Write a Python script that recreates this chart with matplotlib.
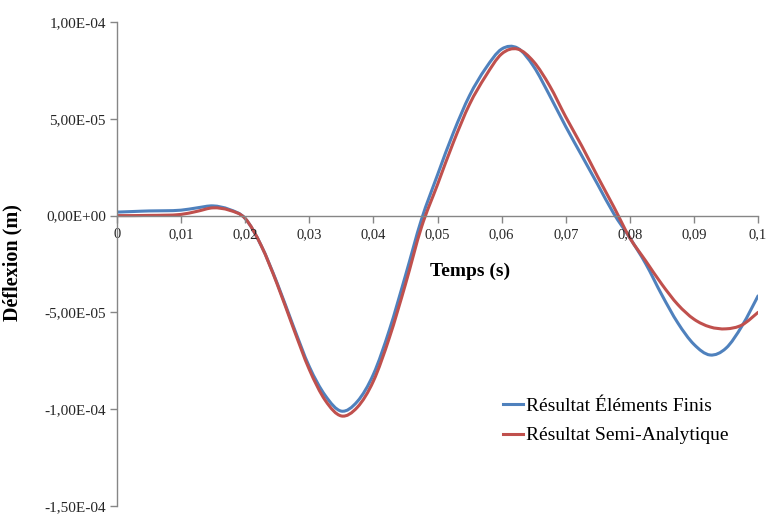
import numpy as np
import matplotlib
matplotlib.use("Agg")
import matplotlib.pyplot as plt
from matplotlib.path import Path
from matplotlib.patches import PathPatch
from matplotlib.lines import Line2D
from matplotlib.ticker import FuncFormatter, MultipleLocator

# ---------------------------------------------------------------------------
# Data (deflection in micrometres)
# ---------------------------------------------------------------------------
TIME_S = np.arange(41) * 0.0025

FE_UM = [1.8, 2.1, 2.4, 2.5, 2.8, 4.0, 5.0, 3.2, -1.5, -15.5,
         -35.0, -57.0, -78.0, -93.0, -101.0, -96.0, -82.0, -59.0, -31.0, -2.0,
         21.0, 43.0, 62.0, 76.0, 86.0, 86.5, 77.0, 62.0, 46.0, 31.0,
         16.0, 1.0, -11.5, -25.0, -41.0, -55.5, -66.5, -72.0, -68.5, -57.0,
         -41.5]

SA_UM = [0.0, 0.0, 0.1, 0.2, 0.6, 2.2, 4.0, 2.8, -1.5, -15.5,
         -35.5, -58.0, -79.5, -95.5, -103.5, -99.0, -85.5, -63.0, -35.5, -6.0,
         16.0, 38.0, 57.5, 72.0, 83.5, 86.0, 79.5, 67.0, 51.0, 36.0,
         20.0, 4.5, -11.5, -23.5, -35.5, -46.0, -53.5, -57.5, -58.5, -56.5,
         -50.0]

LABEL_FE = "Résultat Éléments Finis"
LABEL_SA = "Résultat Semi-Analytique"

BLUE = "#4F81BD"
RED = "#C0504D"
AXIS_C = "#868686"
TEXT_C = "#262626"
LW = 2.2

plt.rcParams["font.family"] = ["Liberation Serif", "DejaVu Serif"]


def smooth_path(x, y):
    """Excel-like smoothed line: Catmull-Rom segments as cubic Beziers."""
    x = np.asarray(x, float)
    y = np.asarray(y, float)
    px = np.concatenate([[x[0]], x, [x[-1]]])
    py = np.concatenate([[y[0]], y, [y[-1]]])
    verts = [(x[0], y[0])]
    codes = [Path.MOVETO]
    for i in range(1, len(px) - 2):
        c1 = (px[i] + (px[i + 1] - px[i - 1]) / 6, py[i] + (py[i + 1] - py[i - 1]) / 6)
        c2 = (px[i + 1] - (px[i + 2] - px[i]) / 6, py[i + 1] - (py[i + 2] - py[i]) / 6)
        verts += [c1, c2, (px[i + 1], py[i + 1])]
        codes += [Path.CURVE4] * 3
    return Path(verts, codes)


fig = plt.figure(figsize=(7.66, 5.16), dpi=100)
ax = fig.add_axes([0.1527, 0.0194, 0.8369, 0.938])

fe = np.array(FE_UM) * 1e-6
sa = np.array(SA_UM) * 1e-6
for ys, col in ((fe, BLUE), (sa, RED)):
    ax.add_patch(PathPatch(smooth_path(TIME_S, ys), facecolor="none",
                           edgecolor=col, lw=LW, capstyle="round",
                           joinstyle="round"))

ax.set_xlim(0, 0.1)
ax.set_ylim(-1.5e-4, 1.0e-4)
ax.xaxis.set_major_locator(MultipleLocator(0.01))
ax.yaxis.set_major_locator(MultipleLocator(5e-5))


def _xfmt(v, pos):
    s = f"{v:.2f}".rstrip("0").rstrip(".")
    return s.replace(".", ",")


def _yfmt(v, pos):
    if abs(v) < 1e-12:
        v = 0.0
    return f"{v:.2E}".replace(".", ",")


ax.xaxis.set_major_formatter(FuncFormatter(_xfmt))
ax.yaxis.set_major_formatter(FuncFormatter(_yfmt))

for side in ("top", "right"):
    ax.spines[side].set_visible(False)
ax.spines["bottom"].set_position(("data", 0))
for side in ("left", "bottom"):
    ax.spines[side].set_color(AXIS_C)
    ax.spines[side].set_linewidth(1.0)

ax.tick_params(axis="both", direction="out", length=5, width=1.0,
               color=AXIS_C, labelcolor=TEXT_C, labelsize=11)
ax.tick_params(axis="y", pad=3)
ax.tick_params(axis="x", pad=4, labelsize=10.5)

ax.set_xlabel("Temps (s)", fontsize=14, fontweight="bold", color="black")
ax.xaxis.set_label_coords(0.551, 0.502)
ax.set_ylabel("Déflexion (m)", fontsize=14.5, fontweight="bold", color="black")
ax.yaxis.set_label_coords(-0.148, 0.502)

handles = [Line2D([], [], color=BLUE, lw=LW), Line2D([], [], color=RED, lw=LW)]
ax.legend(handles, [LABEL_FE, LABEL_SA], loc="upper left",
          bbox_to_anchor=(0.602, 0.224), frameon=False,
          fontsize=14, handlelength=1.05, handletextpad=0.15,
          labelspacing=0.6, borderpad=0, borderaxespad=0)

fig.savefig("out.png", dpi=100)
